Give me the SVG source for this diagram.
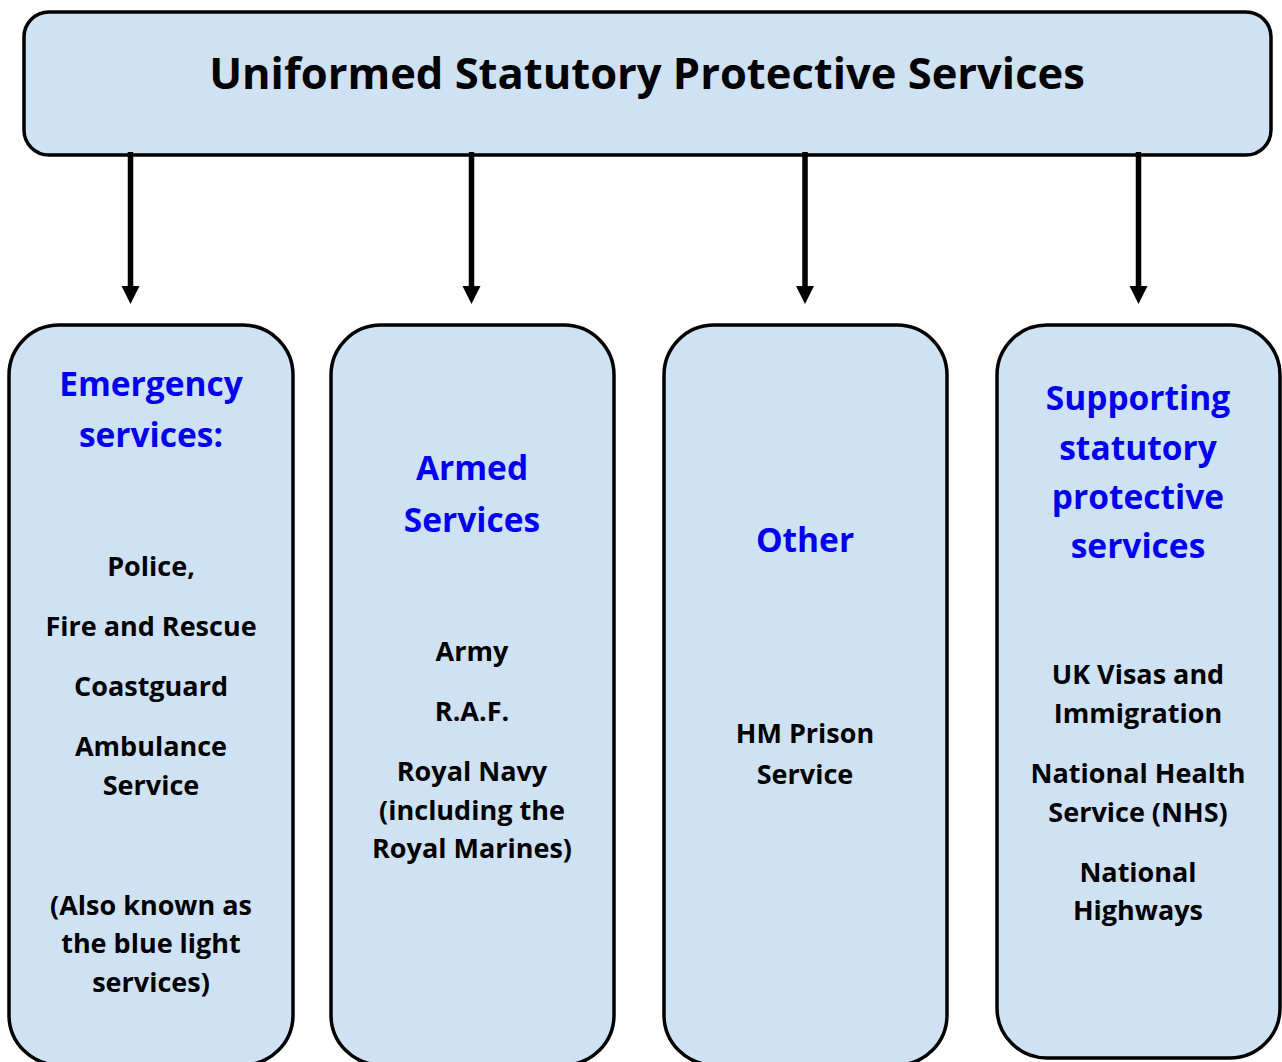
<svg xmlns="http://www.w3.org/2000/svg" width="1282" height="1062" viewBox="0 0 1282 1062">
  <defs>
    <style>
      .box { fill: #cfe2f3; stroke: #000; stroke-width: 3.5; }
      .conn { stroke: #000; stroke-width: 5.5; fill: none; }
      .head-tip { fill: #000; }
      text { font-family: "Open Sans", "Liberation Sans", sans-serif; font-weight: 700; text-anchor: middle; }
      .title { font-size: 43.5px; fill: #000; }
      .head { font-size: 33.5px; fill: #0000ee; }
      .body { font-size: 27px; fill: #000; }
    </style>
  </defs>

  <g id="root">
    <rect class="box" x="24" y="12" width="1247" height="143" rx="25"/>
    <text class="title" x="647" y="89">Uniformed Statutory Protective Services</text>
  </g>

  <!-- one downward arrow per service group -->
  <g id="connectors">
    <line class="conn" x1="130.5" y1="152" x2="130.5" y2="288"/>
    <polygon class="head-tip" points="121.5,286 139.5,286 130.5,304"/>
    <line class="conn" x1="471.5" y1="152" x2="471.5" y2="288"/>
    <polygon class="head-tip" points="462.5,286 480.5,286 471.5,304"/>
    <line class="conn" x1="805" y1="152" x2="805" y2="288"/>
    <polygon class="head-tip" points="796,286 814,286 805,304"/>
    <line class="conn" x1="1138.5" y1="152" x2="1138.5" y2="288"/>
    <polygon class="head-tip" points="1129.5,286 1147.5,286 1138.5,304"/>
  </g>

  <g id="emergency">
    <rect class="box" x="9" y="325" width="284" height="740" rx="50"/>
    <text class="head" x="151" y="396">Emergency</text>
    <text class="head" x="151" y="447">services:</text>
    <text class="body" x="151" y="576">Police,</text>
    <text class="body" x="151" y="636">Fire and Rescue</text>
    <text class="body" x="151" y="696">Coastguard</text>
    <text class="body" x="151" y="756">Ambulance</text>
    <text class="body" x="151" y="795">Service</text>
    <text class="body" x="151" y="915">(Also known as</text>
    <text class="body" x="151" y="953">the blue light</text>
    <text class="body" x="151" y="992">services)</text>
  </g>

  <g id="armed">
    <rect class="box" x="331" y="325" width="283" height="740" rx="50"/>
    <text class="head" x="472" y="480">Armed</text>
    <text class="head" x="472" y="532">Services</text>
    <text class="body" x="472" y="661">Army</text>
    <text class="body" x="472" y="721">R.A.F.</text>
    <text class="body" x="472" y="781">Royal Navy</text>
    <text class="body" x="472" y="820">(including the</text>
    <text class="body" x="472" y="858">Royal Marines)</text>
  </g>

  <g id="other">
    <rect class="box" x="664" y="325" width="283" height="740" rx="50"/>
    <text class="head" x="805" y="552">Other</text>
    <text class="body" x="805" y="743">HM Prison</text>
    <text class="body" x="805" y="784">Service</text>
  </g>

  <g id="supporting">
    <rect class="box" x="997" y="325" width="283" height="733" rx="50"/>
    <text class="head" x="1138" y="410">Supporting</text>
    <text class="head" x="1138" y="460">statutory</text>
    <text class="head" x="1138" y="509">protective</text>
    <text class="head" x="1138" y="558">services</text>
    <text class="body" x="1138" y="684">UK Visas and</text>
    <text class="body" x="1138" y="723">Immigration</text>
    <text class="body" x="1138" y="783">National Health</text>
    <text class="body" x="1138" y="822">Service (NHS)</text>
    <text class="body" x="1138" y="882">National</text>
    <text class="body" x="1138" y="920">Highways</text>
  </g>
</svg>
